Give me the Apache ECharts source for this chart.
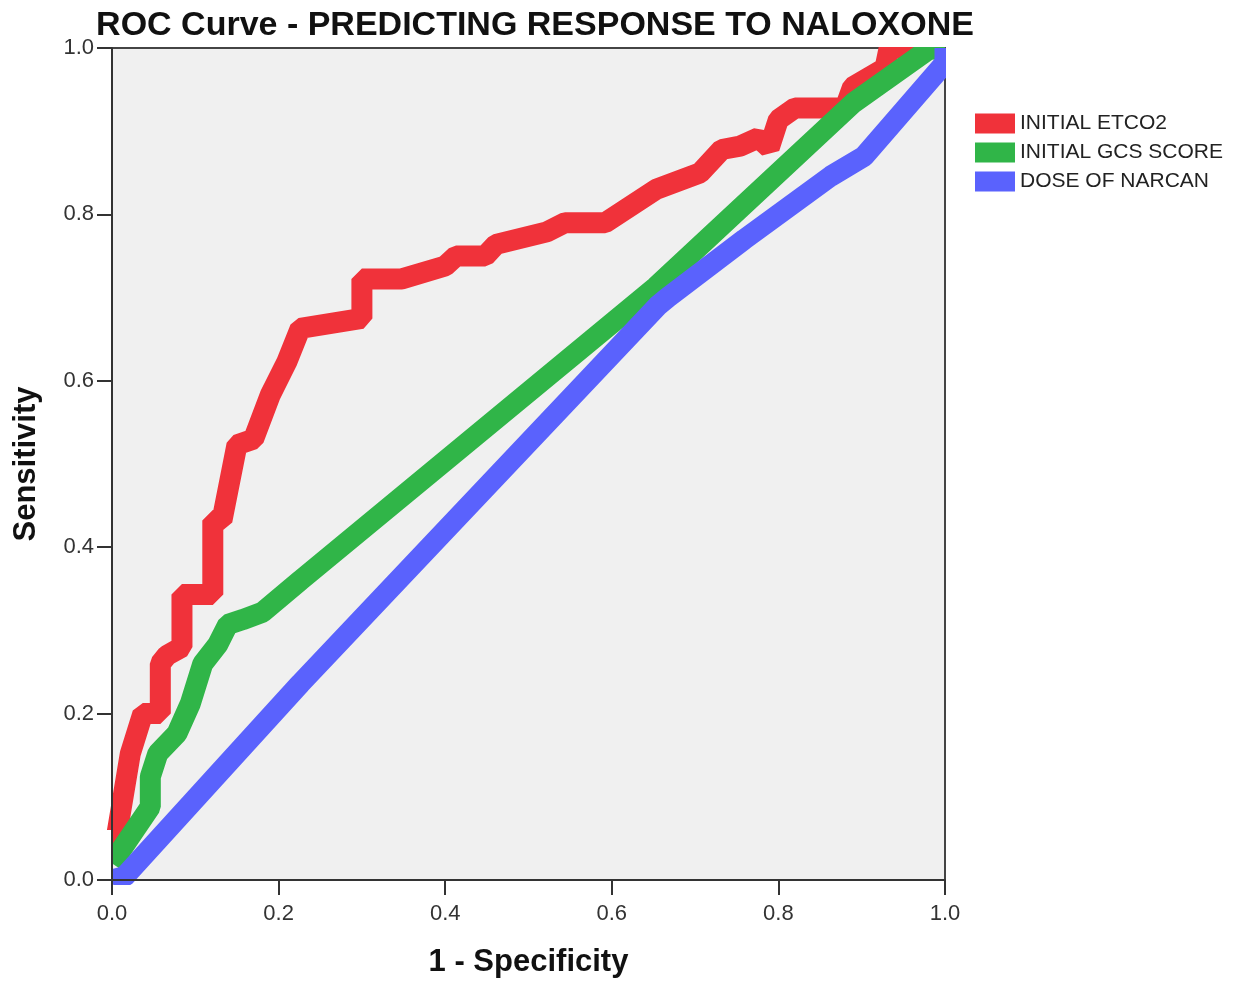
<!DOCTYPE html>
<html>
<head>
	<meta charset="UTF-8">
	<title>ROC Curve</title>
	<script src="https://cdn.jsdelivr.net/npm/echarts@6/dist/echarts.min.js"></script>
	<style>
		html, body { margin: 0; padding: 0; background: #fff; }
		#chart { width: 1235px; height: 983px; }
	</style>
</head>
<body>
	<div id="chart"></div>
	<script>
		// 数据 (1 - 特异度, 灵敏度)
		var etco2X = [0, 0.022, 0.037, 0.058, 0.058, 0.066, 0.084, 0.084, 0.121, 0.121, 0.132, 0.15, 0.17, 0.19, 0.21, 0.226, 0.30, 0.30, 0.322, 0.348, 0.40, 0.413, 0.448, 0.461, 0.522, 0.544, 0.592, 0.653, 0.706, 0.732, 0.754, 0.776, 0.789, 0.80, 0.82, 0.88, 0.889, 0.928, 0.933, 1.0];
		var etco2Y = [0.02, 0.152, 0.20, 0.20, 0.26, 0.27, 0.28, 0.343, 0.343, 0.432, 0.432, 0.523, 0.53, 0.583, 0.623, 0.663, 0.675, 0.7225, 0.7225, 0.7225, 0.738, 0.75, 0.75, 0.764, 0.779, 0.79, 0.79, 0.83, 0.85, 0.878, 0.882, 0.892, 0.88, 0.914, 0.928, 0.928, 0.953, 0.976, 1.0, 1.0];

		var gcsX = [0, 0.046, 0.046, 0.055, 0.078, 0.094, 0.109, 0.127, 0.139, 0.157, 0.181, 0.226, 0.653, 0.89, 0.98, 1.0];
		var gcsY = [0.02, 0.088, 0.124, 0.152, 0.176, 0.212, 0.26, 0.283, 0.307, 0.313, 0.322, 0.36, 0.713, 0.934, 0.998, 1.0];

		var narcanX = [0, 0.015, 0.226, 0.655, 0.667, 0.759, 0.863, 0.903, 1.0, 1.0];
		var narcanY = [0, 0.004, 0.236, 0.69, 0.70, 0.77, 0.846, 0.87, 0.982, 1.0];

		var seriesNames = ['INITIAL ETCO2', 'INITIAL GCS SCORE', 'DOSE OF NARCAN'];
		var seriesColors = ['#f0323a', '#30b548', '#5a62fd'];
		var tickLabels = ['0.0', '0.2', '0.4', '0.6', '0.8', '1.0'];

		function zip(xs, ys) {
			var out = [];
			for (var i = 0; i < xs.length; i++) {
				out.push([xs[i], ys[i]]);
			}
			return out;
		}

		var chart = echarts.init(document.getElementById('chart'));
		var lines = [zip(etco2X, etco2Y), zip(gcsX, gcsY), zip(narcanX, narcanY)];

		var axisCommon = {
			type: 'value',
			min: 0,
			max: 1,
			interval: 0.2,
			z: 6,
			nameLocation: 'middle',
			nameTextStyle: {
				fontFamily: 'Liberation Sans',
				fontWeight: 'bold',
				fontSize: 31,
				color: '#111'
			},
			axisLine: { show: true, lineStyle: { color: '#333', width: 2 } },
			axisTick: { show: true, length: 15, lineStyle: { color: '#333', width: 2 } },
			splitLine: { show: false },
			axisLabel: {
				fontFamily: 'Liberation Sans',
				fontSize: 22,
				color: '#333',
				formatter: function (v) {
					return tickLabels[Math.round(v / 0.2)];
				}
			}
		};

		// 粗线条超出绘图区的部分用白块遮住
		var white = { fill: '#fff' };

		var option = {
			backgroundColor: '#fff',
			animation: false,
			title: {
				text: 'ROC Curve - PREDICTING RESPONSE TO NALOXONE',
				left: 530,
				textAlign: 'center',
				top: 4,
				z: 8,
				textStyle: {
					fontFamily: 'Liberation Sans',
					fontWeight: 'bold',
					fontSize: 34,
					color: '#111'
				}
			},
			legend: {
				orient: 'vertical',
				left: 975,
				top: 113,
				padding: 0,
				itemWidth: 40,
				itemHeight: 20,
				itemGap: 8,
				icon: 'rect',
				textStyle: {
					fontFamily: 'Liberation Sans',
					fontSize: 21,
					color: '#222'
				},
				data: seriesNames
			},
			graphic: [
				{ type: 'rect', z: 5, silent: true, shape: { x: 100, y: 20, width: 880, height: 27 }, style: white },
				{ type: 'rect', z: 5, silent: true, shape: { x: 946, y: 20, width: 26, height: 862 }, style: white },
				{ type: 'rect', z: 5, silent: true, shape: { x: 90, y: 830, width: 21, height: 70 }, style: white },
				{ type: 'rect', z: 5, silent: true, shape: { x: 90, y: 885, width: 120, height: 15 }, style: white }
			],
			grid: {
				left: 112,
				right: 290,
				top: 48,
				bottom: 99,
				show: true,
				backgroundColor: '#f0f0f0',
				borderColor: '#444',
				borderWidth: 2
			},
			xAxis: Object.assign({}, axisCommon, {
				name: '1 - Specificity',
				nameGap: 67,
				axisLabel: Object.assign({}, axisCommon.axisLabel, { margin: 23 })
			}),
			yAxis: Object.assign({}, axisCommon, {
				name: 'Sensitivity',
				nameGap: 70,
				axisLabel: Object.assign({}, axisCommon.axisLabel, { margin: 18 })
			}),
			series: seriesNames.map(function (name, i) {
				return {
					name: name,
					type: 'line',
					data: lines[i],
					showSymbol: false,
					symbol: 'none',
					clip: true,
					itemStyle: { color: seriesColors[i] },
					lineStyle: {
						color: seriesColors[i],
						width: 21,
						join: 'bevel',
						cap: 'butt'
					},
					z: 2 + i
				};
			})
		};

		chart.setOption(option);
	</script>
</body>
</html>
